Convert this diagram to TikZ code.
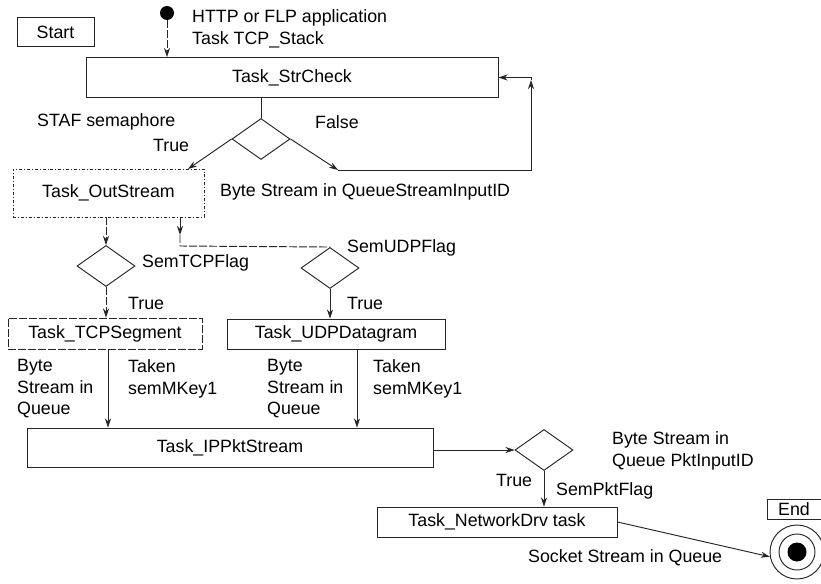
\documentclass[tikz,border=0pt]{standalone}
\usepackage{fontspec}
\setmainfont{Liberation Sans}
\usetikzlibrary{arrows.meta,shapes.geometric}
\begin{document}
\begin{tikzpicture}[x=1pt,y=-1pt,
  font=\fontsize{17.8}{21.5}\selectfont,
  ln/.style={line width=0.95pt, draw=black!85},
  arr/.style={ln, -{Stealth[length=9pt,width=6pt]}},
  box/.style={ln, draw, rectangle, inner sep=0pt, align=center},
  dia/.style={ln, draw, diamond, minimum width=58pt, minimum height=41pt, inner sep=0pt},
  lbl/.style={inner sep=0pt, anchor=west, align=left},
  brk/.style={dash pattern=on 8pt off 2pt}
]
\useasboundingbox (0,0) rectangle (821,583);

% top
\node[box, minimum width=77pt, minimum height=29pt] (start) at (55.5,32) {Start};
\node[fill=black, circle, inner sep=0pt, minimum size=14pt] (init) at (167,13) {};
\node[lbl] (http) at (192,29) {HTTP or FLP application\\Task TCP\_Stack};
\node[box, minimum width=412pt, minimum height=40pt] (strcheck) at (292,77.5) {Task\_StrCheck};
\draw[arr, brk] (init) -- (init |- strcheck.north);

% first decision
\node[dia] (d1) at (261,139) {};
\draw[ln] (d1.north |- strcheck.south) -- (d1.north);
\node[lbl] (staf) at (37,122) {STAF semaphore};
\node[lbl] (false) at (315,122) {False};
\node[lbl] (true1) at (153,145) {True};
\node[box, minimum width=191pt, minimum height=48pt, dash dot] (outstream) at (108.5,193) {Task\_OutStream};
\node[lbl] (bsq) at (220,192) {Byte Stream in QueueStreamInputID};
\coordinate (t1) at (188,169);
\draw[arr] (d1.west) -- (t1);
\coordinate (c1) at (338,170);
\coordinate (c2) at (531,170);
\coordinate (c3) at (531,80);
\draw[arr] (d1.east) -- (c1);
\draw[arr] (c1) -- (c2) -- (c3);
\draw[arr] (c3) |- (strcheck.east);

% second level decisions
\node[dia] (d2) at (106,266) {};
\node[dia] (d3) at (330,268) {};
\draw[arr, brk] (outstream.south -| d2) -- (d2.north);
\coordinate (c4) at (180,217);
\coordinate (c5) at (180,235);
\coordinate (c6) at (180,246);
\draw[arr] (c4) -- (c5);
\draw[ln, brk] (c5) -- (c6) -- (d3.north);
\node[lbl] (tcpflag) at (142,263) {SemTCPFlag};
\node[lbl] (udpflag) at (347,248) {SemUDPFlag};

\node[box, minimum width=194pt, minimum height=31pt, brk] (tcp) at (105,333.5) {Task\_TCPSegment};
\node[box, minimum width=218pt, minimum height=30pt] (udp) at (336,334) {Task\_UDPDatagram};
\draw[arr, brk] (d2.south) -- (d2.south |- tcp.north);
\draw[arr] (d3.south) -- (d3.south |- udp.north);
\node[lbl] (true2) at (128,303) {True};
\node[lbl] (true3) at (347,303) {True};

% IP stream
\node[box, minimum width=406pt, minimum height=39pt] (ip) at (230,447.5) {Task\_IPPktStream};
\coordinate (xa) at (108,0);
\coordinate (xb) at (357,0);
\draw[arr] (tcp.south -| xa) -- (ip.north -| xa);
\draw[arr] (udp.south -| xb) -- (ip.north -| xb);
\node[lbl] (bq1) at (17,389) {Byte\\Stream in\\Queue};
\node[lbl] (tk1) at (128,379) {Taken\\semMKey1};
\node[lbl] (bq2) at (267,389) {Byte\\Stream in\\Queue};
\node[lbl] (tk2) at (373,379) {Taken\\semMKey1};

% packet decision
\node[dia] (d4) at (544,450) {};
\draw[arr] (ip.east |- d4) -- (d4.west);
\node[lbl] (bpk) at (612,451) {Byte Stream in\\Queue PktInputID};
\node[box, minimum width=240pt, minimum height=30pt] (ndrv) at (497,522) {Task\_NetworkDrv task};
\draw[arr] (d4.south) -- (d4.south |- ndrv.north);
\node[lbl] (true4) at (496,480) {True};
\node[lbl] (pktflag) at (556,491) {SemPktFlag};

% end
\node[box, minimum width=54pt, minimum height=20pt] (endb) at (794,509) {End};
\node[circle, ln, draw, minimum size=54pt, inner sep=0pt] (endc) at (797,552) {};
\draw[ln] (endc.center) circle (18pt);
\fill[black] (endc.center) circle (9.5pt);
\draw[arr] (ndrv.east) -- (endc.190);
\node[lbl] (sock) at (528,558) {Socket Stream in Queue};
\end{tikzpicture}
\end{document}
